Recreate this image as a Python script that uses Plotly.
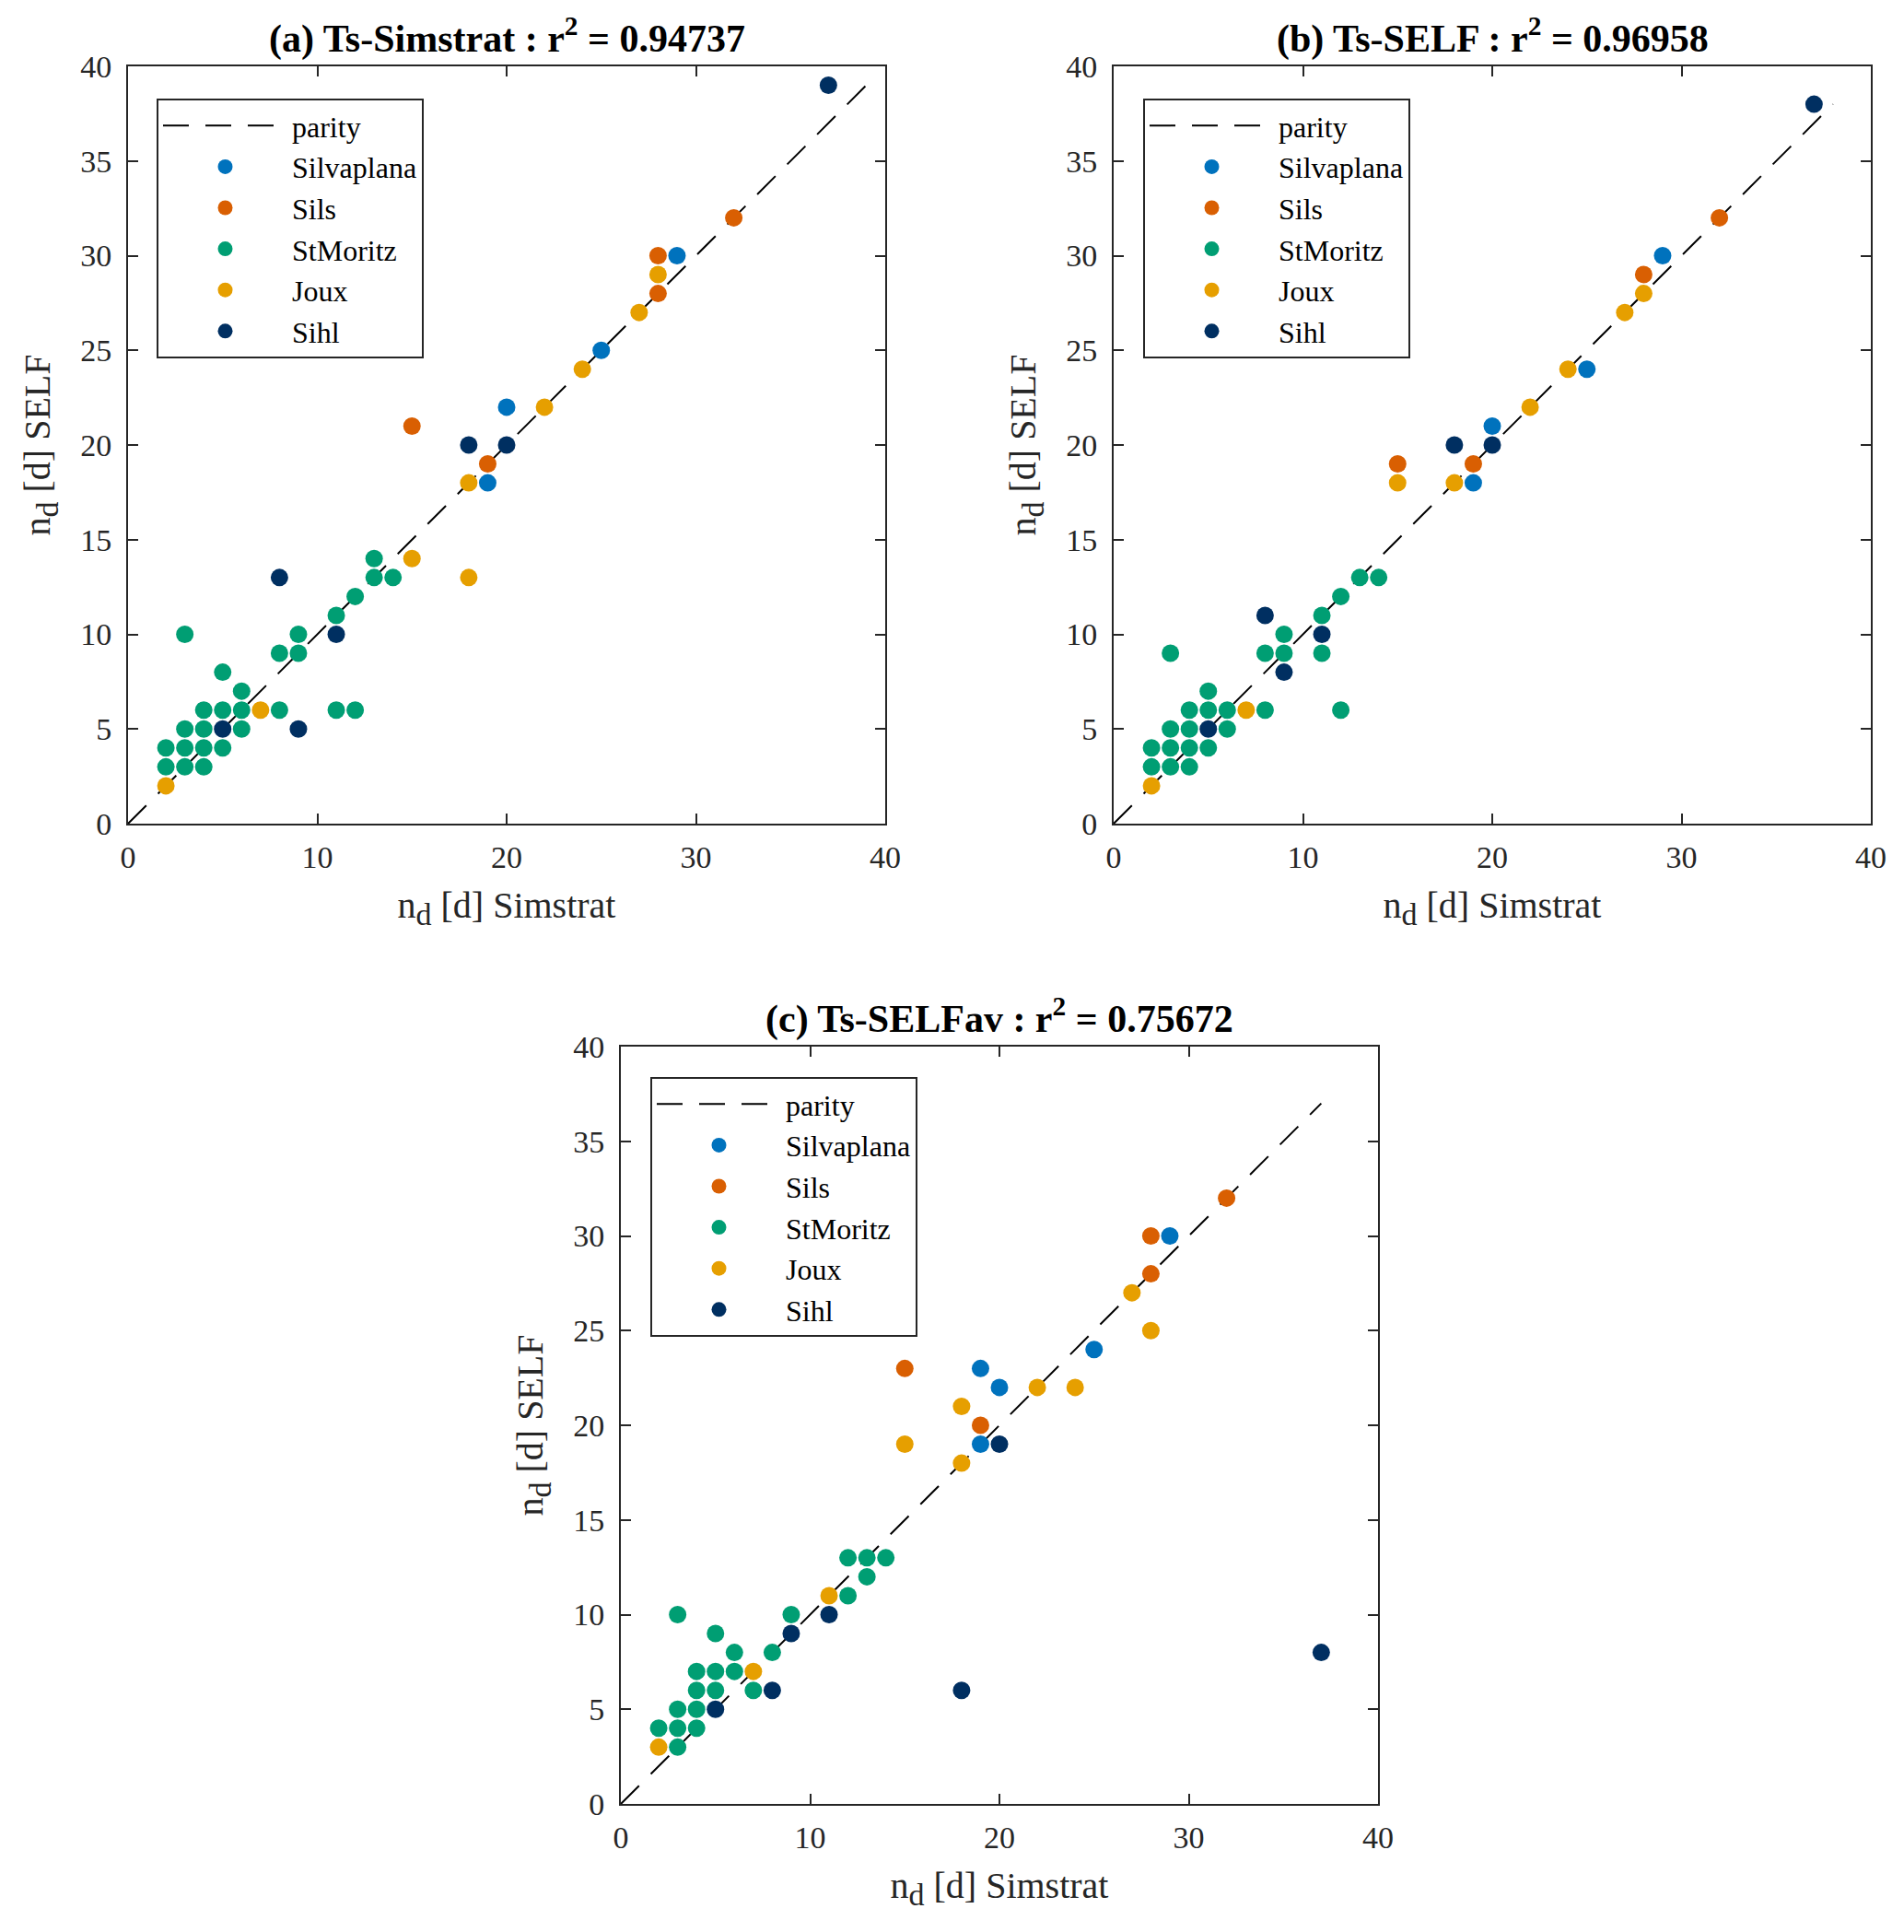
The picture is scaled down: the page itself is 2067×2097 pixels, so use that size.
import plotly.graph_objects as go

# lake names / colours (legend order)
lakes = ["Silvaplana", "Sils", "StMoritz", "Joux", "Sihl"]
lake_colors = ["#0072BD", "#D95F02", "#009E73", "#E69F00", "#002F61"]

titles = ["<b>(a) Ts-Simstrat : r<sup>2</sup> = 0.94737</b>",
          "<b>(b) Ts-SELF : r<sup>2</sup> = 0.96958</b>",
          "<b>(c) Ts-SELFav : r<sup>2</sup> = 0.75672</b>"]

# ---- panel (a): n_d Simstrat (x) vs n_d SELF (y)
a_silvaplana_x = [29, 25, 20, 19]
a_silvaplana_y = [30, 25, 22, 18]
a_sils_x = [32, 28, 28, 15, 19]
a_sils_y = [32, 30, 28, 21, 19]
a_stmoritz_x = [13, 13, 14, 12, 11, 3, 9, 8, 9, 5, 6, 4, 5, 6, 8, 11, 12, 3, 4, 6, 2, 3, 4, 5, 2, 3, 4]
a_stmoritz_y = [14, 13, 13, 12, 11, 10, 10, 9, 9, 8, 7, 6, 6, 6, 6, 6, 6, 5, 5, 5, 4, 4, 4, 4, 3, 3, 3]
a_joux_x = [28, 27, 24, 22, 18, 15, 18, 7, 2]
a_joux_y = [29, 27, 24, 22, 18, 14, 13, 6, 2]
a_sihl_x = [37, 18, 20, 8, 11, 5, 9]
a_sihl_y = [39, 20, 20, 13, 10, 5, 5]

# ---- panel (b)
b_silvaplana_x = [29, 25, 20, 19]
b_silvaplana_y = [30, 24, 21, 18]
b_sils_x = [32, 28, 15, 19]
b_sils_y = [32, 29, 19, 19]
b_stmoritz_x = [13, 14, 12, 11, 9, 3, 8, 9, 11, 5, 4, 5, 6, 8, 12, 3, 4, 6, 2, 3, 4, 5, 2, 3, 4]
b_stmoritz_y = [13, 13, 12, 11, 10, 9, 9, 9, 9, 7, 6, 6, 6, 6, 6, 5, 5, 5, 4, 4, 4, 4, 3, 3, 3]
b_joux_x = [28, 27, 24, 22, 15, 18, 7, 2]
b_joux_y = [28, 27, 24, 22, 18, 18, 6, 2]
b_sihl_x = [37, 18, 20, 8, 11, 9, 5]
b_sihl_y = [38, 20, 20, 11, 10, 8, 5]

# ---- panel (c)
c_silvaplana_x = [29, 25, 19, 20, 19]
c_silvaplana_y = [30, 24, 23, 22, 19]
c_sils_x = [32, 28, 28, 15, 19]
c_sils_y = [32, 30, 28, 23, 20]
c_stmoritz_x = [12, 13, 14, 13, 12, 3, 9, 5, 6, 8, 4, 5, 6, 4, 5, 7, 3, 4, 2, 3, 4, 3]
c_stmoritz_y = [13, 13, 13, 12, 11, 10, 10, 9, 8, 8, 7, 7, 7, 6, 6, 6, 5, 5, 4, 4, 4, 3]
c_joux_x = [27, 28, 22, 24, 18, 15, 18, 11, 7, 2]
c_joux_y = [27, 25, 22, 22, 21, 19, 18, 11, 7, 3]
c_sihl_x = [20, 11, 9, 37, 8, 18, 5]
c_sihl_y = [19, 10, 9, 8, 6, 6, 5]

panels = [
    [(a_silvaplana_x, a_silvaplana_y), (a_sils_x, a_sils_y), (a_stmoritz_x, a_stmoritz_y),
     (a_joux_x, a_joux_y), (a_sihl_x, a_sihl_y)],
    [(b_silvaplana_x, b_silvaplana_y), (b_sils_x, b_sils_y), (b_stmoritz_x, b_stmoritz_y),
     (b_joux_x, b_joux_y), (b_sihl_x, b_sihl_y)],
    [(c_silvaplana_x, c_silvaplana_y), (c_sils_x, c_sils_y), (c_stmoritz_x, c_stmoritz_y),
     (c_joux_x, c_joux_y), (c_sihl_x, c_sihl_y)],
]

# the page body has an 8px margin, so the figure is a bit smaller and offset
OFF = 8
W, H = 2067 - 2 * OFF, 2097 - 2 * OFF
FONT = "Liberation Serif, Times New Roman, serif"
INK = "#262626"

# plot boxes in page pixels: (left, right, top, bottom)
boxes = [(139, 961, 72, 894), (1209, 2031, 72, 894), (674, 1496, 1136, 1958)]
legend_pos = [(170, 107), (1241, 107), (706, 1169)]

fig = go.Figure()

for i, series in enumerate(panels):
    sfx = "" if i == 0 else str(i + 1)
    leg = "legend" + sfx
    m = max(max(max(x), max(y)) for x, y in series)
    fig.add_trace(go.Scatter(
        x=[0, m], y=[0, m], mode="lines", name="parity",
        line=dict(color="black", width=2, dash="28px,18px"),
        xaxis="x" + sfx, yaxis="y" + sfx, legend=leg))
    for (x, y), name, col in zip(series, lakes, lake_colors):
        fig.add_trace(go.Scatter(
            x=x, y=y, mode="markers", name=name,
            marker=dict(color=col, size=19, line=dict(width=0)),
            xaxis="x" + sfx, yaxis="y" + sfx, legend=leg))

layout = dict(
    width=W, height=H,
    margin=dict(l=0, r=0, t=0, b=0, autoexpand=False),
    paper_bgcolor="white", plot_bgcolor="white",
    font=dict(family=FONT, size=32, color=INK),
    annotations=[],
)

axis_common = dict(
    range=[0, 40], showgrid=False, zeroline=False, automargin=False,
    showline=True, linecolor=INK, linewidth=2, mirror="ticks",
    ticks="inside", ticklen=11, tickwidth=2, tickcolor=INK,
    tickfont=dict(family=FONT, size=34, color=INK),
)

sub_d = "n<sub><span style='font-size:34px'>d</span></sub> [d] "

for i, (l, r, t, b) in enumerate(boxes):
    sfx = "" if i == 0 else str(i + 1)
    xd = [(l - OFF) / W, (r - OFF) / W]
    yd = [1 - (b - OFF) / H, 1 - (t - OFF) / H]
    layout["xaxis" + sfx] = dict(
        axis_common, domain=xd, anchor="y" + sfx, dtick=10, ticklabelstandoff=5,
        title=dict(text=sub_d + "Simstrat", standoff=20,
                   font=dict(family=FONT, size=40, color=INK)))
    layout["yaxis" + sfx] = dict(
        axis_common, domain=yd, anchor="x" + sfx, dtick=5, ticklabelstandoff=9,
        title=dict(text=sub_d + "SELF", standoff=20,
                   font=dict(family=FONT, size=40, color=INK)))
    lx, ly = legend_pos[i]
    layout["legend" + sfx] = dict(
        x=(lx - OFF) / W, y=1 - (ly - OFF) / H, xanchor="left", yanchor="top",
        bgcolor="white", bordercolor=INK, borderwidth=2,
        font=dict(family=FONT, size=32, color="black"),
        itemwidth=135, tracegroupgap=0)
    layout["annotations"].append(dict(
        text=titles[i], xref="paper", yref="paper",
        x=(xd[0] + xd[1]) / 2, y=yd[1], xanchor="center", yanchor="bottom",
        yshift=4, showarrow=False,
        font=dict(family=FONT, size=42, color="black")))

fig.update_layout(layout)
fig.write_html("out.html")
